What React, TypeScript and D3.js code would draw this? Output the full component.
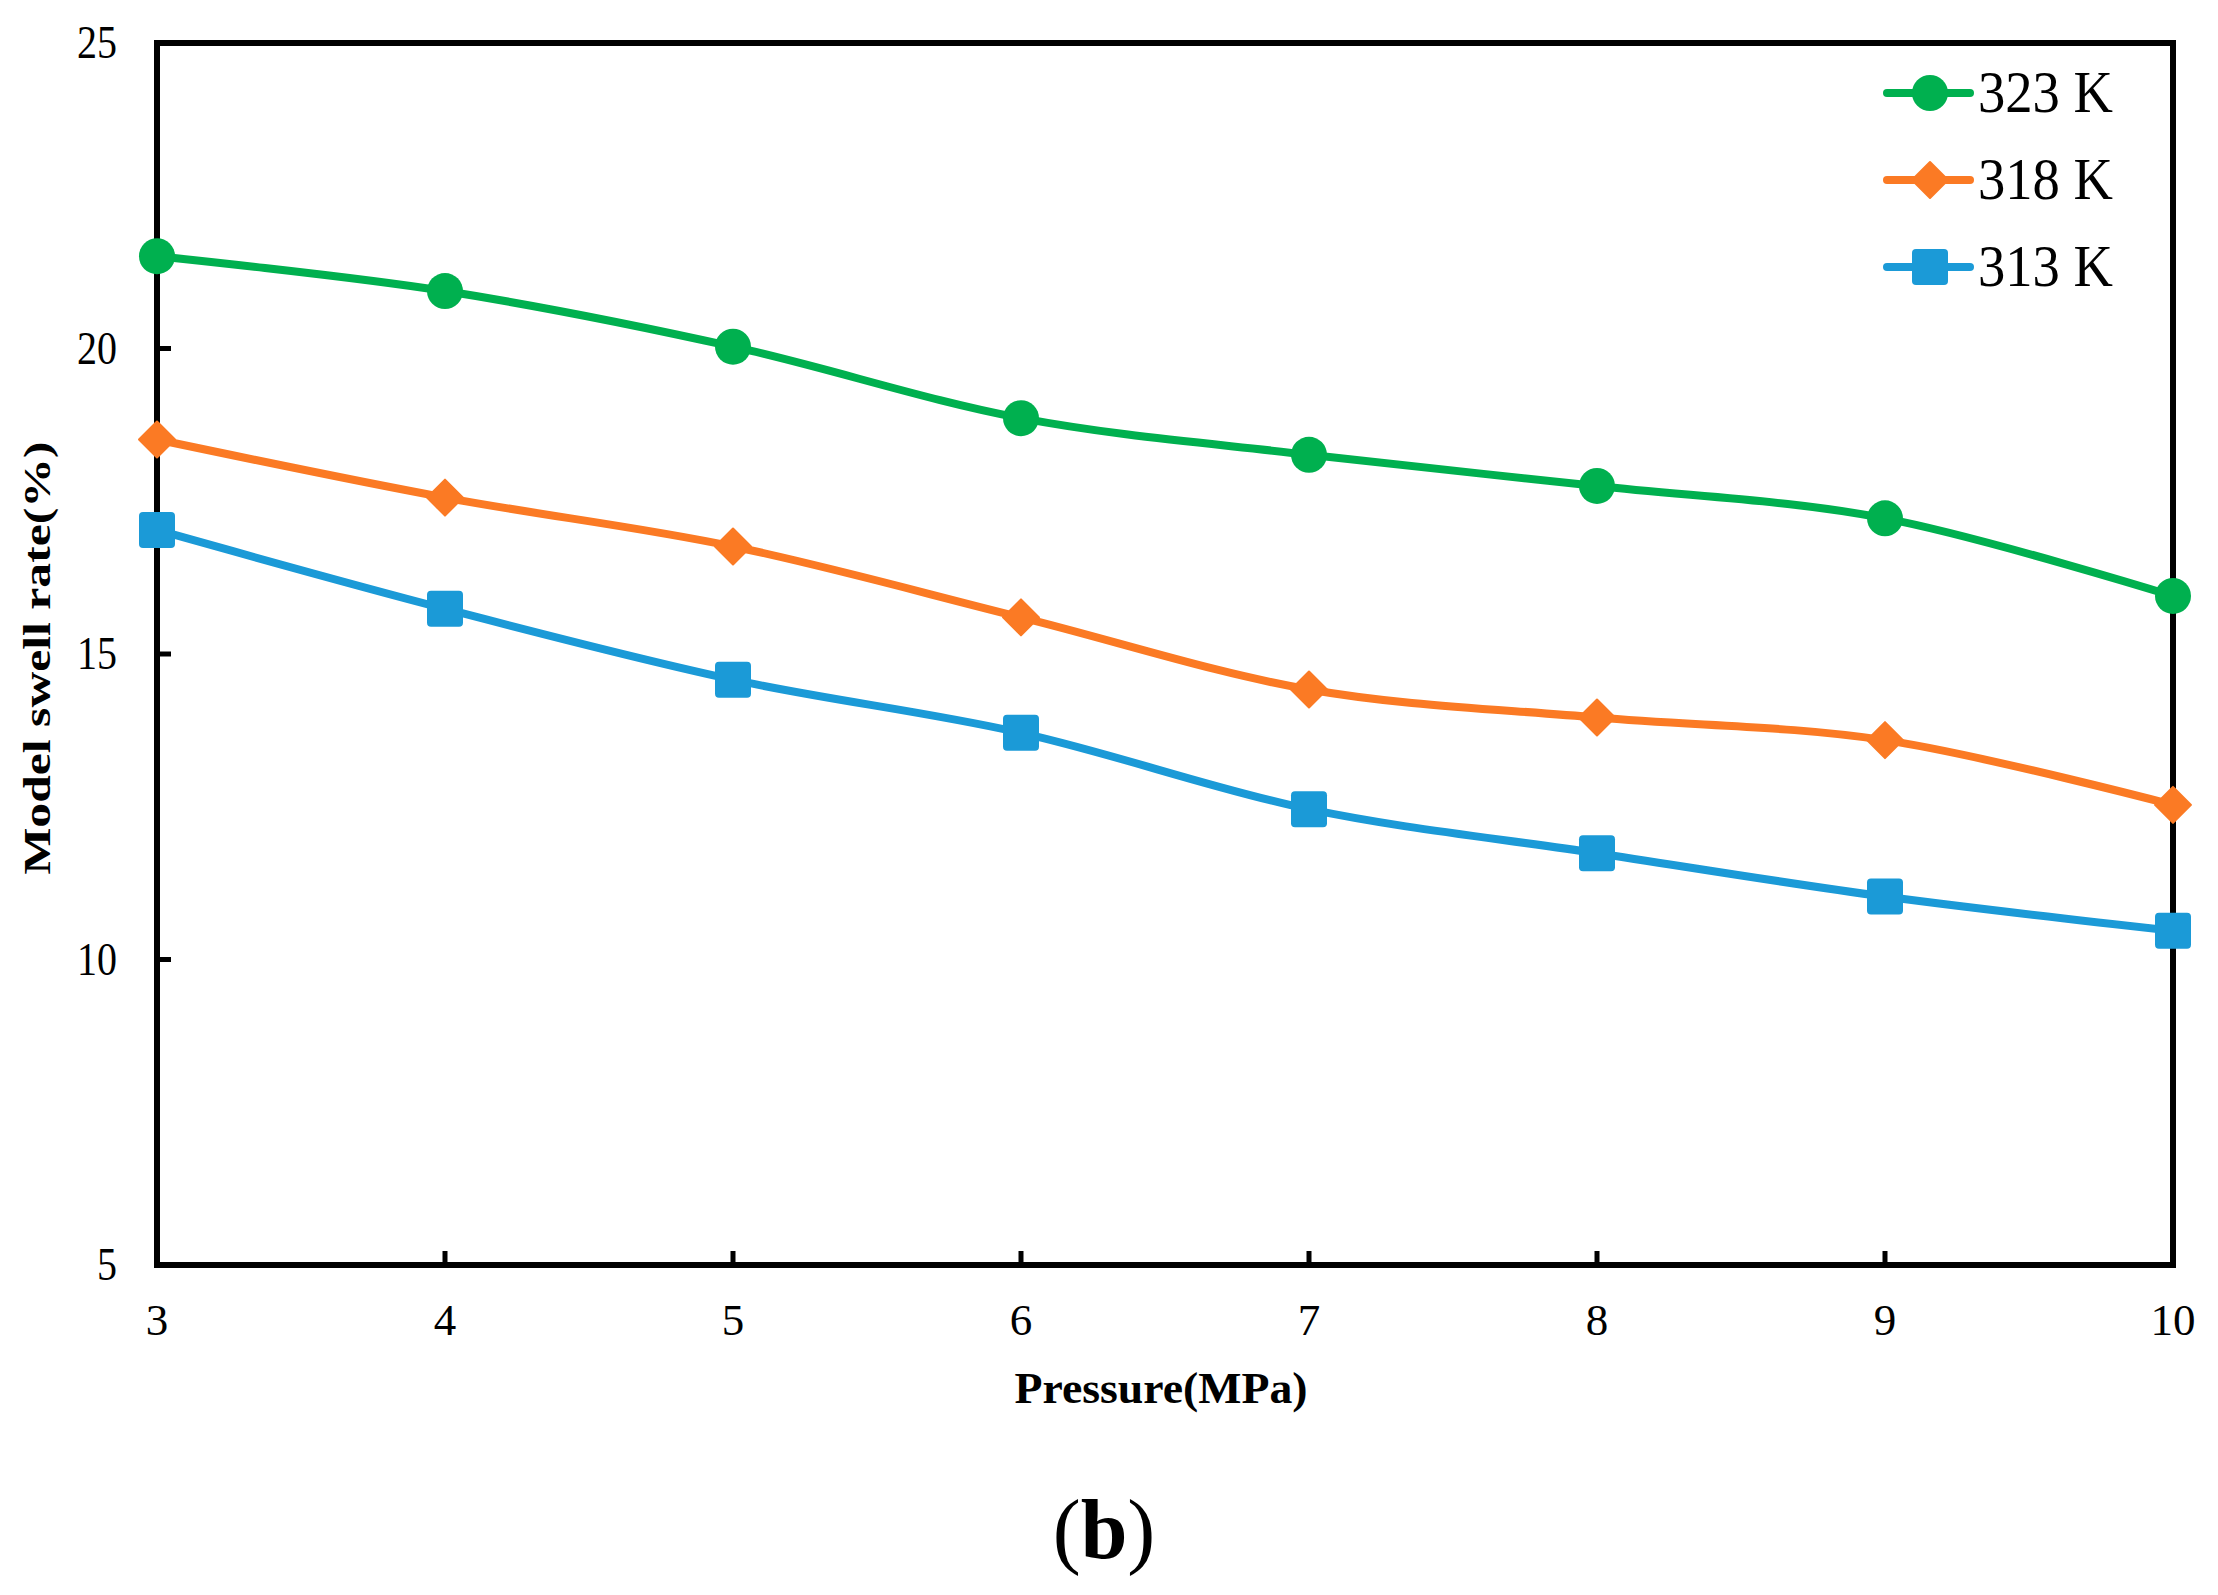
import React, { useEffect, useRef } from 'react';
import * as d3 from 'd3';

const pressures = [3, 4, 5, 6, 7, 8, 9, 10];
const swell323 = [21.51, 20.94, 20.03, 18.86, 18.26, 17.75, 17.22, 15.95];
const swell318 = [18.51, 17.56, 16.76, 15.6, 14.42, 13.96, 13.59, 12.53];
const swell313 = [17.03, 15.74, 14.58, 13.71, 12.46, 11.74, 11.03, 10.47];
const yTicks = [5, 10, 15, 20, 25];
const seriesNames = ['323 K', '318 K', '313 K'];

const W = 2218;
const H = 1595;

export default function App() {
  const ref = useRef<SVGSVGElement>(null);

  useEffect(() => {
    if (!ref.current) return;
    const svg = d3.select(ref.current);
    svg.selectAll('*').remove();

    const left = 157;
    const right = 2173;
    const top = 43;
    const bottom = 1265;
    const font = '"Liberation Serif", "Times New Roman", serif';

    const x = d3.scaleLinear().domain([3, 10]).range([left, right]);
    const y = d3.scaleLinear().domain([5, 25]).range([bottom, top]);

    const series = [
      { name: seriesNames[0], values: swell323, color: '#00B04F', shape: 'circle' },
      { name: seriesNames[1], values: swell318, color: '#FB7A24', shape: 'diamond' },
      { name: seriesNames[2], values: swell313, color: '#1B9AD7', shape: 'square' },
    ];

    // frame
    svg
      .append('rect')
      .attr('x', left)
      .attr('y', top)
      .attr('width', right - left)
      .attr('height', bottom - top)
      .attr('fill', 'none')
      .attr('stroke', '#000')
      .attr('stroke-width', 6);

    // inward ticks
    svg
      .selectAll('.xt')
      .data(pressures)
      .enter()
      .append('line')
      .attr('x1', (d) => x(d))
      .attr('x2', (d) => x(d))
      .attr('y1', bottom)
      .attr('y2', bottom - 14)
      .attr('stroke', '#000')
      .attr('stroke-width', 5);

    svg
      .selectAll('.yt')
      .data(yTicks)
      .enter()
      .append('line')
      .attr('x1', left)
      .attr('x2', left + 14)
      .attr('y1', (d) => y(d))
      .attr('y2', (d) => y(d))
      .attr('stroke', '#000')
      .attr('stroke-width', 5);

    // tick labels
    svg
      .selectAll('.xl')
      .data(pressures)
      .enter()
      .append('text')
      .attr('x', (d) => x(d))
      .attr('y', 1335)
      .attr('text-anchor', 'middle')
      .attr('font-family', font)
      .attr('font-size', 45)
      .text((d) => d);

    svg
      .selectAll('.yl')
      .data(yTicks)
      .enter()
      .append('text')
      .attr('x', 117)
      .attr('y', (d) => y(d) + 15)
      .attr('text-anchor', 'end')
      .attr('font-family', font)
      .attr('font-size', 46)
      .attr('textLength', (d) => (String(d).length > 1 ? 40 : 20))
      .attr('lengthAdjust', 'spacingAndGlyphs')
      .text((d) => d);

    // axis titles
    svg
      .append('text')
      .attr('x', 1161)
      .attr('y', 1403)
      .attr('text-anchor', 'middle')
      .attr('font-family', font)
      .attr('font-weight', 'bold')
      .attr('font-size', 45)
      .attr('textLength', 293)
      .attr('lengthAdjust', 'spacingAndGlyphs')
      .text('Pressure(MPa)');

    svg
      .append('text')
      .attr('transform', 'translate(50,658) rotate(-90)')
      .attr('text-anchor', 'middle')
      .attr('font-family', font)
      .attr('font-weight', 'bold')
      .attr('font-size', 38)
      .attr('textLength', 433)
      .attr('lengthAdjust', 'spacingAndGlyphs')
      .text('Model swell rate(%)');

    svg
      .append('text')
      .attr('x', 1104)
      .attr('y', 1558)
      .attr('text-anchor', 'middle')
      .attr('font-family', font)
      .attr('font-size', 84)
      .html('(<tspan font-weight="bold">b</tspan>)');

    const line = d3
      .line<number>()
      .x((_, i) => x(pressures[i]))
      .y((d) => y(d))
      .curve(d3.curveCardinal.tension(0));

    const drawMarker = (
      g: d3.Selection<SVGGElement, unknown, null, undefined>,
      shape: string,
      cx: number,
      cy: number,
      color: string
    ) => {
      if (shape === 'circle') {
        g.append('circle').attr('cx', cx).attr('cy', cy).attr('r', 18).attr('fill', color);
      } else if (shape === 'diamond') {
        const r = 18;
        g.append('path')
          .attr('d', `M${cx},${cy - r}L${cx + r},${cy}L${cx},${cy + r}L${cx - r},${cy}Z`)
          .attr('fill', color)
          .attr('stroke', color)
          .attr('stroke-width', 2)
          .attr('stroke-linejoin', 'round');
      } else {
        g.append('rect')
          .attr('x', cx - 18)
          .attr('y', cy - 18)
          .attr('width', 36)
          .attr('height', 36)
          .attr('rx', 4)
          .attr('fill', color);
      }
    };

    const plot = svg.append('g');
    series.forEach((s) => {
      plot
        .append('path')
        .datum(s.values)
        .attr('fill', 'none')
        .attr('stroke', s.color)
        .attr('stroke-width', 8)
        .attr('d', line);
    });
    series.forEach((s) => {
      s.values.forEach((v, i) => drawMarker(plot, s.shape, x(pressures[i]), y(v), s.color));
    });

    // legend
    const legend = svg.append('g');
    series.forEach((s, i) => {
      const cy = 93 + i * 87;
      legend
        .append('line')
        .attr('x1', 1887)
        .attr('x2', 1970)
        .attr('y1', cy)
        .attr('y2', cy)
        .attr('stroke', s.color)
        .attr('stroke-width', 8)
        .attr('stroke-linecap', 'round');
      drawMarker(legend, s.shape, 1930, cy, s.color);
      legend
        .append('text')
        .attr('x', 1978)
        .attr('y', cy + 19)
        .attr('font-family', font)
        .attr('font-size', 60)
        .attr('textLength', 135)
        .attr('lengthAdjust', 'spacingAndGlyphs')
        .text(s.name);
    });
  }, []);

  return (
    <div style={{ position: 'absolute', left: 0, top: 0, background: '#fff' }}>
      <svg ref={ref} width={W} height={H} style={{ display: 'block' }}></svg>
    </div>
  );
}
